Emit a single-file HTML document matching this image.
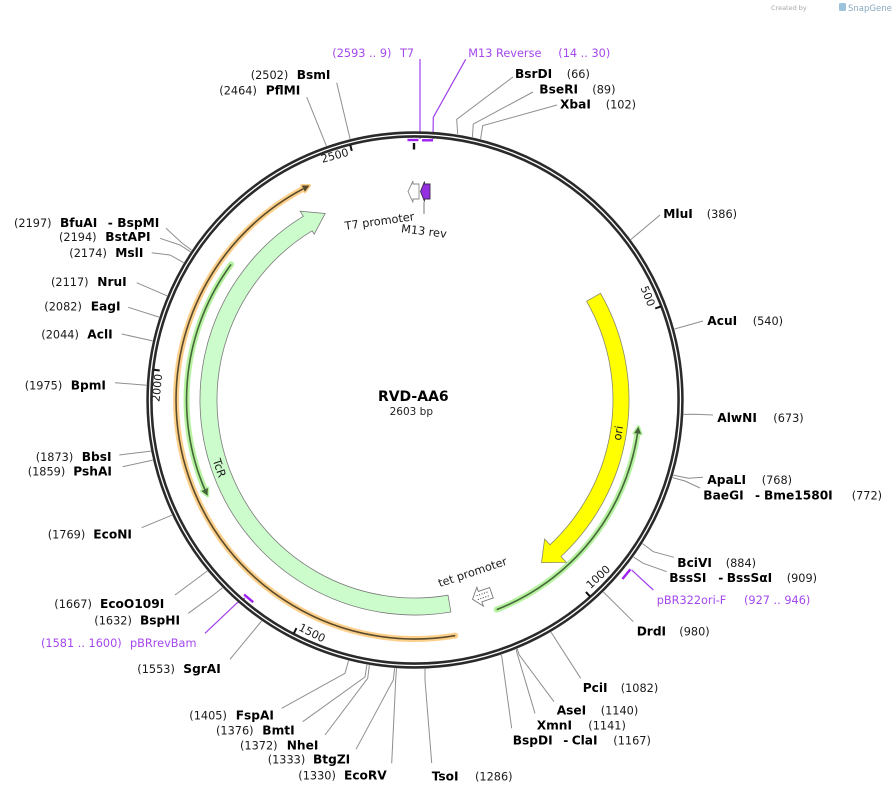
<!DOCTYPE html>
<html><head><meta charset="utf-8"><style>
html,body{margin:0;padding:0;background:#fff}
svg{display:block}
text{font-family:"DejaVu Sans","Liberation Sans",sans-serif}
.b{font-weight:bold;font-size:12.2px;fill:#000}
.r{font-size:11.3px;fill:#1a1a1a}
.p{font-size:11.3px;fill:#a448ee}
.ld{stroke:#8e8e8e;stroke-width:1;fill:none}
.pl{stroke:#a040ec;stroke-width:1.2;fill:none}
.f{font-size:11.3px;fill:#1a1a1a}
</style></head><body>
<svg width="896" height="794" viewBox="0 0 896 794" xmlns="http://www.w3.org/2000/svg">
<rect width="896" height="794" fill="#fff"/>

<!-- watermark -->
<text x="771" y="10" style="font-size:6.5px;fill:#a8a8a8">Created by</text>
<rect x="839" y="3" width="7" height="8" rx="1.5" fill="#9cc3dc"/>
<text x="848" y="11" style="font-size:8.5px;fill:#8aa9bf">SnapGene</text>

<!-- leader lines -->
<g class="ld">
<polyline points="513,77 456.7,119.3 457.7,134"/>
<polyline points="533,92 473.3,124 472.4,137"/>
<polyline points="557,105 482.7,125.7 480.6,139"/>
<polyline points="660,215 630.9,239.5"/>
<polyline points="703,321 674.5,329"/>
<polyline points="713,415 695,414.3 683.6,414.4"/>
<polyline points="703,477.3 688.3,478.3 673.3,475.1"/>
<polyline points="700,488 685,481 672.5,477.6"/>
<polyline points="674,557.3 653.3,551.7 642.5,543.6"/>
<polyline points="666.7,571.7 643.3,563.3 633.4,557"/>
<polyline points="633.3,621.7 603.4,592"/>
<polyline points="580.7,678.3 551,632.1"/>
<polyline points="554,701.7 519.3,655 517.2,648.8"/>
<polyline points="535,713.3 516.6,651.7 516.6,649.1"/>
<polyline points="511.7,728.3 501.7,656 500.8,655"/>
<polyline points="431.7,763 425,680 425,668.8"/>
<polyline points="391.7,763.3 395.7,680 396.5,668.4"/>
<polyline points="356,749.3 393.3,680 394.6,668.2"/>
<polyline points="325,735 367.7,678.3 369.4,665.1"/>
<polyline points="302.7,721.7 365,677 366.9,664.7"/>
<polyline points="281.7,708.3 345,673.3 348.5,660.7"/>
<polyline points="230,659.3 261.6,621"/>
<polyline points="188.3,613.3 213.3,595 222.4,587.8"/>
<polyline points="175,595 207.3,571"/>
<polyline points="141.7,527.7 171.9,515.2"/>
<polyline points="122.7,466.7 152.8,460.1"/>
<polyline points="119.3,455 150.9,451.1"/>
<polyline points="115,382.7 146.4,385.2"/>
<polyline points="121.7,334 152.6,340.9"/>
<polyline points="128.3,307.3 159.1,317.1"/>
<polyline points="136.7,282.7 167,295.8"/>
<polyline points="151.7,252.7 170,255 183.7,262.7"/>
<polyline points="160,238.3 180,245 190.5,251.8"/>
<polyline points="166,228.3 182,243 191.6,250.1"/>
<polyline points="306.7,97 326.4,146"/>
<polyline points="336.7,82.7 350.1,139"/>
</g>

<!-- purple leaders -->
<g class="pl">
<polyline points="420,59 420,139"/>
<polyline points="465.7,59.3 433.3,117.3 433,139"/>
<polyline points="653.3,590 631.7,570"/>
<polyline points="205,633.3 237,603 245,598"/>
</g>

<!-- backbone -->
<circle cx="415" cy="400" r="265.5" fill="none" stroke="#2a2a2a" stroke-width="6.4"/>
<circle cx="415" cy="400" r="265.5" fill="none" stroke="#ffffff" stroke-width="1.3"/>

<!-- ticks -->
<g stroke="#111" stroke-width="2">
<line x1="655.2" y1="308.5" x2="660.8" y2="306.4"/>
<line x1="585.9" y1="591.9" x2="590.0" y2="596.4"/>
<line x1="296.5" y1="628.1" x2="293.8" y2="633.4"/>
<line x1="159.7" y1="370.5" x2="153.7" y2="369.8"/>
<line x1="351.8" y1="150.9" x2="350.3" y2="145.1"/>
</g>
<line x1="414" y1="143" x2="414" y2="149.5" stroke="#111" stroke-width="2.4"/>

<!-- tick labels -->
<text class="f" style="font-size:11px" text-anchor="end" transform="translate(648.2,307.2) rotate(68.3)">500</text>
<text class="f" style="font-size:11px" text-anchor="start" transform="translate(590.5,589.2) rotate(-43)">1000</text>
<text class="f" style="font-size:11px" text-anchor="start" transform="translate(297.9,629.9) rotate(27)">1500</text>
<text class="f" style="font-size:11px" text-anchor="end" transform="translate(162.2,374.3) rotate(-84.2)">2000</text>
<text class="f" style="font-size:11px" text-anchor="end" transform="translate(349.3,155.6) rotate(-15)">2500</text>

<!-- primer markers -->
<g stroke="#a020f0" stroke-width="2.4" fill="none">
<line x1="407.5" y1="140" x2="418.5" y2="140"/>
<line x1="422" y1="140.3" x2="433" y2="140.3"/>
<line x1="622.4" y1="579" x2="630.4" y2="569.3"/>
<line x1="244.1" y1="594.6" x2="253.2" y2="602.2"/>
</g>

<!-- orange ORF -->
<path d="M 455.3 635.6 A 239 239 0 0 1 303.2 188.8" fill="none" stroke="#fcd08a" stroke-width="6" stroke-linecap="round"/>
<polygon points="309.5,185.5 304.9,191.8 301.7,185.5" fill="#5a4a2c" stroke="#fcd08a" stroke-width="3" stroke-linejoin="round"/>
<path d="M 455.3 635.6 A 239 239 0 0 1 303.2 188.8" fill="none" stroke="#5a4a2c" stroke-width="1.6"/>
<polygon points="309.5,185.5 304.9,191.8 301.7,185.5" fill="#5a4a2c"/>

<!-- green ORF left -->
<path d="M 231.1 264.4 A 228.5 228.5 0 0 0 204.8 489.5" fill="none" stroke="#b6f2a0" stroke-width="6" stroke-linecap="round"/>
<polygon points="207.6,495.9 207.9,488.0 201.5,491.0" fill="#46663a" stroke="#b6f2a0" stroke-width="3" stroke-linejoin="round"/>
<path d="M 231.1 264.4 A 228.5 228.5 0 0 0 204.8 489.5" fill="none" stroke="#46663a" stroke-width="1.6"/>
<polygon points="207.6,495.9 207.9,488.0 201.5,491.0" fill="#46663a"/>

<!-- green ORF right -->
<path d="M 496.7 609.6 A 225 225 0 0 0 637.5 433.6" fill="none" stroke="#b6f2a0" stroke-width="6" stroke-linecap="round"/>
<polygon points="638.4,426.6 641.1,434.0 634.1,433.2" fill="#46663a" stroke="#b6f2a0" stroke-width="3" stroke-linejoin="round"/>
<path d="M 496.7 609.6 A 225 225 0 0 0 637.5 433.6" fill="none" stroke="#46663a" stroke-width="1.6"/>
<polygon points="638.4,426.6 641.1,434.0 634.1,433.2" fill="#46663a"/>

<!-- TcR -->
<path d="M 450.9 612.0 A 215 215 0 0 1 303.3 216.3 L 300.2 211.2 L 325.2 213.5 L 314.2 234.2 L 312.1 230.8 A 198 198 0 0 0 448.0 595.2 Z" fill="#ccfccc" stroke="#7a7a7a" stroke-width="0.8"/>
<text class="f" text-anchor="middle" transform="translate(219.5,468) rotate(71)" dy="4">TcR</text>

<!-- ori -->
<path d="M 600.5 293.3 A 214 214 0 0 1 561.0 556.5 L 566.4 562.4 L 541.5 562.6 L 544.6 539.0 L 550.0 544.8 A 198 198 0 0 0 586.6 301.3 Z" fill="#ffff00" stroke="#8a8a6a" stroke-width="0.8"/>
<text class="f" text-anchor="middle" transform="translate(618,433) rotate(-80.8)" dy="4">ori</text>

<!-- tet promoter -->
<g transform="translate(482,596) rotate(-19)">
<polygon points="10,-5.5 -2,-5.5 -2,-10 -10,0 -2,10 -2,5.5 10,5.5" fill="#fff" stroke="#777" stroke-width="0.9"/>
<line x1="-5" y1="-2" x2="8" y2="-2" stroke="#333" stroke-width="1" stroke-dasharray="1,1.6"/>
<line x1="-5" y1="2" x2="8" y2="2" stroke="#333" stroke-width="1" stroke-dasharray="1,1.6"/>
</g>
<text class="f" text-anchor="middle" transform="translate(472.5,572) rotate(-18.5)" dy="4">tet promoter</text>

<!-- T7 promoter & M13 rev -->
<polygon points="419,184 413,184 413,181 408,191.5 413,202.5 413,199 419,199" fill="#fff" stroke="#8a8a8a" stroke-width="0.9"/>
<polygon points="430,184 424.5,184 424.5,181.5 420.5,191.5 424.5,201.5 424.5,199 430,199" fill="#9430e2" stroke="#3a2a4a" stroke-width="0.9"/>
<line x1="424" y1="202" x2="424" y2="214" stroke="#777" stroke-width="1"/>
<text class="f" text-anchor="middle" transform="translate(380,225) rotate(-8)">T7 promoter</text>
<text class="f" text-anchor="middle" transform="translate(423.5,235) rotate(7)">M13 rev</text>

<!-- title -->
<text x="413.3" y="401" text-anchor="middle" style="font-size:14px;font-weight:bold;fill:#000">RVD-AA6</text>
<text x="411.3" y="415" text-anchor="middle" style="font-size:10.5px;fill:#222">2603 bp</text>

<!-- purple top labels -->
<text class="p" x="332.3" y="57">(2593 .. 9)</text>
<text class="p" x="400" y="57">T7</text>
<text class="p" x="468.3" y="57">M13 Reverse</text>
<text class="p" x="558.3" y="57">(14 .. 30)</text>

<!-- right labels -->
<text class="b" x="515" y="78">BsrDI</text><text class="r" x="566.7" y="78">(66)</text>
<text class="b" x="539.3" y="93.5">BseRI</text><text class="r" x="592.3" y="93.5">(89)</text>
<text class="b" x="560" y="108.5">XbaI</text><text class="r" x="605.7" y="108.5">(102)</text>
<text class="b" x="663.3" y="218">MluI</text><text class="r" x="706.7" y="218">(386)</text>
<text class="b" x="707.3" y="325">AcuI</text><text class="r" x="752.7" y="325">(540)</text>
<text class="b" x="717.3" y="422">AlwNI</text><text class="r" x="773.3" y="422">(673)</text>
<text class="b" x="707.3" y="484">ApaLI</text><text class="r" x="761.7" y="484">(768)</text>
<text class="b" x="703.3" y="499.5">BaeGI</text><text class="b" x="755" y="499.5">-</text><text class="b" x="764" y="499.5">Bme1580I</text><text class="r" x="851.7" y="499.5">(772)</text>
<text class="b" x="677.3" y="567">BciVI</text><text class="r" x="725.7" y="567">(884)</text>
<text class="b" x="669.3" y="582">BssSI</text><text class="b" x="718.3" y="582">-</text><text class="b" x="726.7" y="582">BssSαI</text><text class="r" x="786.7" y="582">(909)</text>
<text class="p" x="656.7" y="604">pBR322ori-F</text><text class="p" x="744" y="604">(927 .. 946)</text>
<text class="b" x="636.7" y="635.5">DrdI</text><text class="r" x="679.3" y="635.5">(980)</text>
<text class="b" x="582.7" y="692">PciI</text><text class="r" x="620.7" y="692">(1082)</text>
<text class="b" x="556.7" y="714.5">AseI</text><text class="r" x="600.7" y="714.5">(1140)</text>
<text class="b" x="536.7" y="729.5">XmnI</text><text class="r" x="588.3" y="729.5">(1141)</text>
<text class="b" x="512.7" y="744.5">BspDI</text><text class="b" x="563.3" y="744.5">-</text><text class="b" x="571.7" y="744.5">ClaI</text><text class="r" x="613.3" y="744.5">(1167)</text>
<text class="b" x="431.7" y="780.5">TsoI</text><text class="r" x="475" y="780.5">(1286)</text>

<!-- left labels -->
<text class="r" x="298.3" y="779.5">(1330)</text><text class="b" x="344" y="779.5">EcoRV</text>
<text class="r" x="267.7" y="763.5">(1333)</text><text class="b" x="313" y="763.5">BtgZI</text>
<text class="r" x="240" y="749.5">(1372)</text><text class="b" x="286.7" y="749.5">NheI</text>
<text class="r" x="216" y="734.5">(1376)</text><text class="b" x="262.3" y="734.5">BmtI</text>
<text class="r" x="189.3" y="719.5">(1405)</text><text class="b" x="235.7" y="719.5">FspAI</text>
<text class="r" x="137.3" y="673">(1553)</text><text class="b" x="183.3" y="673">SgrAI</text>
<text class="p" x="41" y="647">(1581 .. 1600)</text><text class="p" x="130" y="647">pBRrevBam</text>
<text class="r" x="94.3" y="624.5">(1632)</text><text class="b" x="140" y="624.5">BspHI</text>
<text class="r" x="54.3" y="608">(1667)</text><text class="b" x="100" y="608">EcoO109I</text>
<text class="r" x="47.7" y="538.5">(1769)</text><text class="b" x="93.3" y="538.5">EcoNI</text>
<text class="r" x="27.7" y="475.5">(1859)</text><text class="b" x="73.3" y="475.5">PshAI</text>
<text class="r" x="35.7" y="461">(1873)</text><text class="b" x="81.7" y="461">BbsI</text>
<text class="r" x="24.7" y="389.5">(1975)</text><text class="b" x="70.7" y="389.5">BpmI</text>
<text class="r" x="41.3" y="338.5">(2044)</text><text class="b" x="87.3" y="338.5">AclI</text>
<text class="r" x="44.3" y="310.5">(2082)</text><text class="b" x="90.7" y="310.5">EagI</text>
<text class="r" x="51" y="286">(2117)</text><text class="b" x="97.3" y="286">NruI</text>
<text class="r" x="69.3" y="257">(2174)</text><text class="b" x="115.3" y="257">MslI</text>
<text class="r" x="59" y="241">(2194)</text><text class="b" x="105.3" y="241">BstAPI</text>
<text class="r" x="14" y="227">(2197)</text><text class="b" x="60" y="227">BfuAI</text><text class="b" x="107.7" y="227">-</text><text class="b" x="117.3" y="227">BspMI</text>
<text class="r" x="219.3" y="94.5">(2464)</text><text class="b" x="265.7" y="94.5">PflMI</text>
<text class="r" x="250.7" y="79">(2502)</text><text class="b" x="296.7" y="79">BsmI</text>
</svg>
</body></html>
